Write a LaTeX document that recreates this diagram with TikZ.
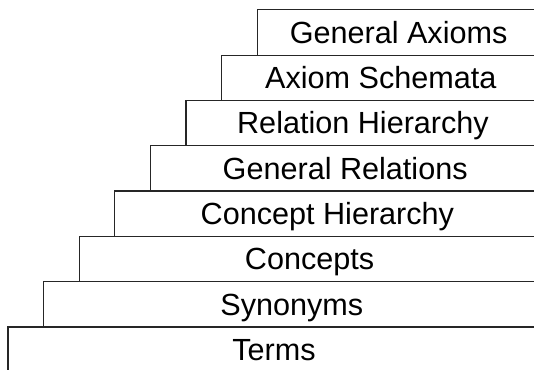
\documentclass[tikz,border=0pt]{standalone}
\usepackage{fontspec}
\setmainfont{Liberation Sans}
\begin{document}
\begin{tikzpicture}[x=1pt,y=1pt,
  stepline/.style={draw=black!85,line width=1.2pt},
  steplabel/.style={font=\fontsize{30.6}{36}\selectfont,inner sep=0pt,anchor=base}]
\useasboundingbox (0,0) rectangle (534,369);
\clip (0,0) rectangle (534,369);
% each level: a top edge and a left edge, shifted up and to the right
\foreach \k/\t in {0/Terms,1/Synonyms,2/Concepts,3/Concept Hierarchy,
                   4/General Relations,5/Relation Hierarchy,
                   6/Axiom Schemata,7/General Axioms}{
  \pgfmathsetmacro\xl{8+35.6*\k}
  \pgfmathsetmacro\yt{42+45.3*\k}
  \draw[stepline] (\xl,\yt-45.3) |- (540,\yt);
  \node[steplabel] (level\k) at ({(\xl+540)/2},\yt-33.5) {\t};
}
\end{tikzpicture}
\end{document}
